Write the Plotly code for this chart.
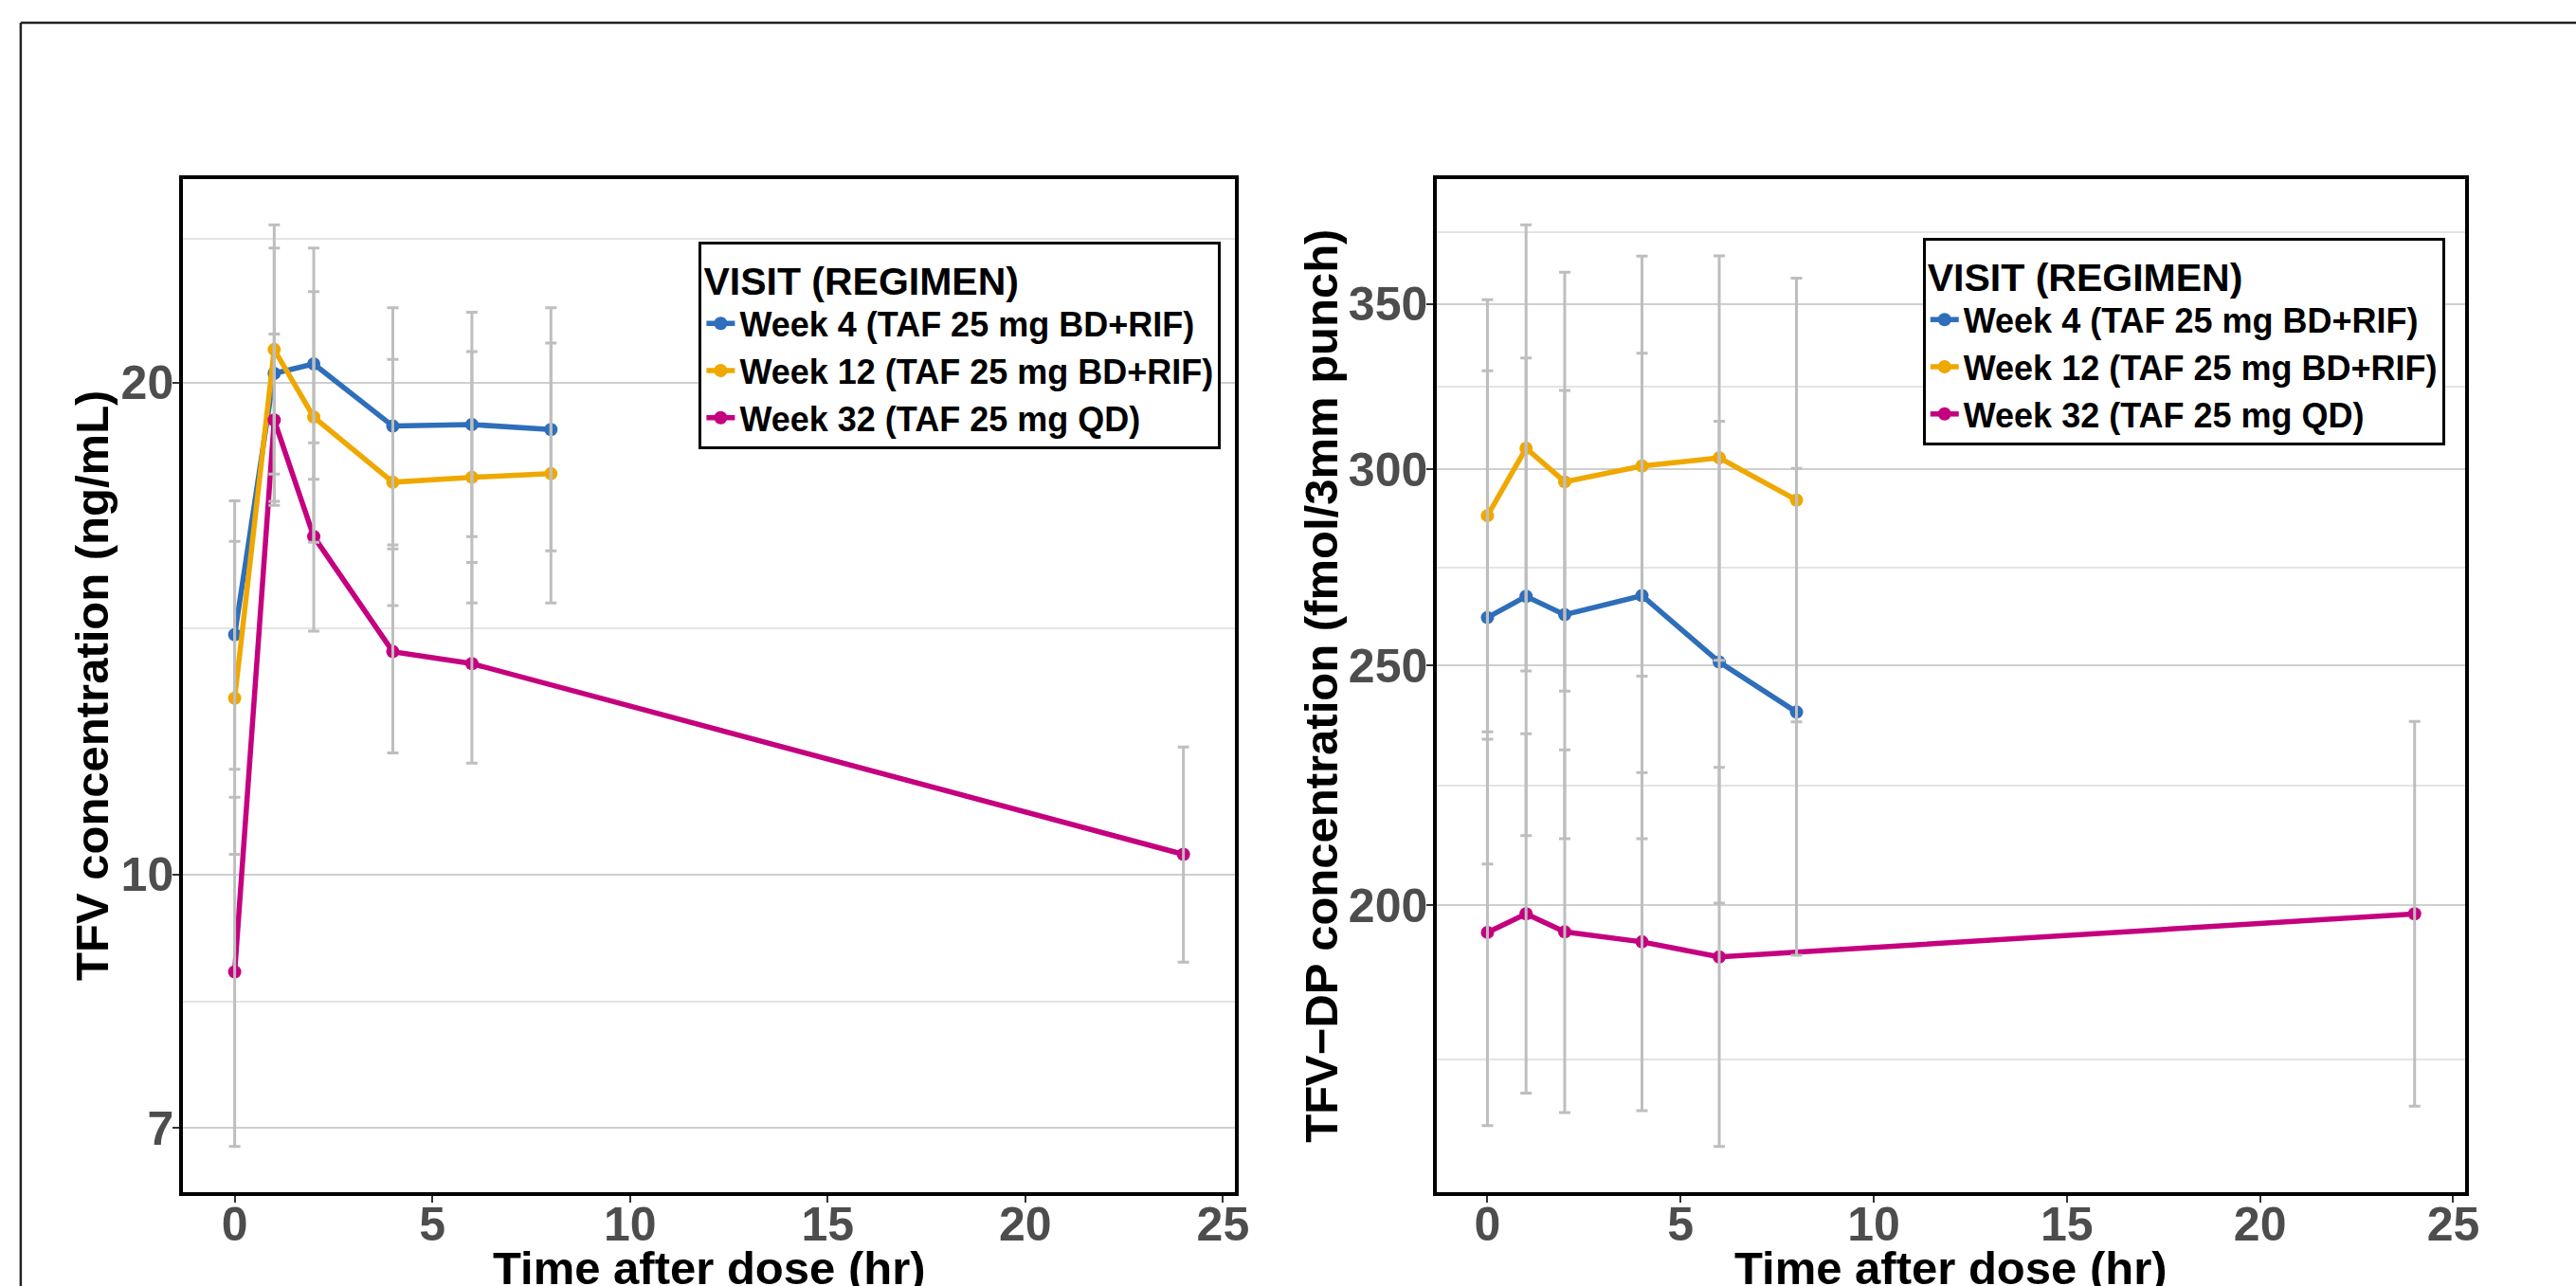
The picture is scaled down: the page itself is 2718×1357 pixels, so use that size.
import numpy as np
import plotly.graph_objects as go

W, H = 2718, 1357

# ---------------- data ----------------
TIME_BD = [0, 1, 2, 4, 6, 8]
TIME_QD = [0, 1, 2, 4, 6, 24]
SERIES = ["Week 4 (TAF 25 mg BD+RIF)", "Week 12 (TAF 25 mg BD+RIF)", "Week 32 (TAF 25 mg QD)"]
COLORS = ["#2E6EBA", "#EFA800", "#C5007F"]
X_TICKS = [0, 5, 10, 15, 20, 25]

# Left panel: TFV plasma (ng/mL)
TFV_W4 = [14.02, 20.26, 20.53, 18.81, 18.85, 18.72]
TFV_W4_LO = [11.60, 16.92, 17.45, 15.91, 16.10, 15.78]
TFV_W4_HI = [16.93, 24.17, 24.17, 22.22, 22.08, 22.22]
TFV_W12 = [12.82, 20.95, 19.05, 17.38, 17.50, 17.59]
TFV_W12_LO = [10.29, 17.58, 15.97, 14.61, 14.66, 14.66]
TFV_W12_HI = [15.99, 24.97, 22.73, 20.66, 20.89, 21.14]
TFV_W32 = [8.72, 18.97, 16.10, 13.69, 13.46, 10.29]
TFV_W32_LO = [6.82, 16.82, 14.09, 11.87, 11.70, 8.84]
TFV_W32_HI = [11.15, 21.41, 18.37, 15.82, 15.52, 11.97]
TFV_YTICKS = [7, 10, 20, 30]

# Right panel: TFV-DP (fmol/3mm punch)
DP_W4 = [261.4, 266.6, 262.1, 266.8, 250.8, 239.4]
DP_W4_LO = [207.8, 213.4, 212.8, 212.8, 200.4, 190.9]
DP_W4_HI = [328.9, 332.8, 322.9, 334.3, 313.8, 300.3]
DP_W12 = [287.4, 306.0, 296.6, 301.0, 303.3, 291.6]
DP_W12_LO = [235.0, 248.7, 244.1, 247.5, 251.2, 237.2]
DP_W12_HI = [351.4, 376.7, 360.5, 365.9, 366.0, 358.5]
DP_W32 = [195.0, 198.4, 195.1, 193.3, 190.6, 198.4]
DP_W32_LO = [162.9, 167.9, 164.9, 165.2, 159.8, 165.9]
DP_W32_HI = [233.4, 234.6, 231.1, 226.3, 227.4, 237.3]
DP_YTICKS = [150, 200, 250, 300, 350, 400]

# ---------------- styling ----------------
FONT = "Liberation Sans, Arial, sans-serif"
TICK_COLOR = "#4D4D4D"
ERR_COLOR = "#BEBEBE"
GRID_MAJOR = "#CFCFCF"
GRID_MINOR = "#E4E4E4"
LW = 3.5  # panel border width


def px_x(p):
    return p / W


def px_y(p):
    return 1 - p / H


def log_range(lo_lists, hi_lists):
    lo = np.log10(min(min(l) for l in lo_lists))
    hi = np.log10(max(max(h) for h in hi_lists))
    pad = 0.05 * (hi - lo)
    return [lo - pad, hi + pad]


def minor_vals(ticks):
    t = np.array(ticks, dtype=float)
    return list(np.sqrt(t[:-1] * t[1:]))


x_all = TIME_BD + TIME_QD
xmin, xmax = min(x_all) - 0.1, max(x_all) + 0.1
xpad = 0.05 * (xmax - xmin)
X_RANGE = [xmin - xpad, xmax + xpad]

fig = go.Figure()

panels = [
    dict(xa="x", ya="y", legend="legend",
         series=[(TIME_BD, TFV_W4, TFV_W4_LO, TFV_W4_HI),
                 (TIME_BD, TFV_W12, TFV_W12_LO, TFV_W12_HI),
                 (TIME_QD, TFV_W32, TFV_W32_LO, TFV_W32_HI)]),
    dict(xa="x2", ya="y2", legend="legend2",
         series=[(TIME_BD, DP_W4, DP_W4_LO, DP_W4_HI),
                 (TIME_BD, DP_W12, DP_W12_LO, DP_W12_HI),
                 (TIME_QD, DP_W32, DP_W32_LO, DP_W32_HI)]),
]

for p in panels:
    for (t, v, lo, hi), name, col in zip(p["series"], SERIES, COLORS):
        fig.add_trace(go.Scatter(
            x=t, y=v, name=name, mode="lines+markers",
            line=dict(color=col, width=5.5),
            marker=dict(color=col, size=14),
            xaxis=p["xa"], yaxis=p["ya"], legend=p["legend"],
            showlegend=True,
        ))
    for (t, v, lo, hi), name in zip(p["series"], SERIES):
        fig.add_trace(go.Scatter(
            x=t, y=v, mode="markers", name=name,
            marker=dict(color="rgba(0,0,0,0)", size=1),
            error_y=dict(type="data", symmetric=False,
                         array=[h - m for h, m in zip(hi, v)],
                         arrayminus=[m - l for m, l in zip(v, lo)],
                         color=ERR_COLOR, thickness=3, width=6),
            xaxis=p["xa"], yaxis=p["ya"], showlegend=False, hoverinfo="skip",
        ))

# panel positions (pixel measurements of the border centre lines)
LEFT_PANEL = (192.3, 1312.3)
RIGHT_PANEL = (1522.7, 2617.3)
TOP, BOTTOM = 187.0, 1260.0
h = LW / 2

xaxis_common = dict(
    range=X_RANGE, tickvals=X_TICKS, showgrid=False, zeroline=False,
    showline=True, linecolor="black", linewidth=LW, mirror=True,
    ticks="outside", ticklen=7, tickwidth=2, tickcolor="#333333",
    ticklabelstandoff=-20,
    tickfont=dict(family=FONT, size=50, color=TICK_COLOR, weight="bold"),
)
yaxis_common = dict(
    type="log", showgrid=True, gridcolor=GRID_MAJOR, gridwidth=2, zeroline=False,
    showline=True, linecolor="black", linewidth=LW, mirror=True,
    ticks="outside", ticklen=7, tickwidth=2, tickcolor="#333333",
    ticklabelstandoff=-11,
    tickfont=dict(family=FONT, size=50, color=TICK_COLOR, weight="bold"),
)

y_dom = [px_y(BOTTOM - h), px_y(TOP + h)]

fig.update_layout(
    xaxis=dict(domain=[px_x(LEFT_PANEL[0] + h), px_x(LEFT_PANEL[1] - h)], anchor="y", **xaxis_common),
    yaxis=dict(domain=y_dom, anchor="x",
               range=log_range([TFV_W4_LO, TFV_W12_LO, TFV_W32_LO], [TFV_W4_HI, TFV_W12_HI, TFV_W32_HI]),
               tickvals=TFV_YTICKS, ticktext=[str(v) for v in TFV_YTICKS],
               minor=dict(tickmode="array", tickvals=minor_vals(TFV_YTICKS), showgrid=True,
                          gridcolor=GRID_MINOR, gridwidth=2, ticks=""),
               **yaxis_common),
    xaxis2=dict(domain=[px_x(RIGHT_PANEL[0] + h), px_x(RIGHT_PANEL[1] - h)], anchor="y2", **xaxis_common),
    yaxis2=dict(domain=y_dom, anchor="x2",
                range=log_range([DP_W4_LO, DP_W12_LO, DP_W32_LO], [DP_W4_HI, DP_W12_HI, DP_W32_HI]),
                tickvals=DP_YTICKS, ticktext=[str(v) for v in DP_YTICKS],
                minor=dict(tickmode="array", tickvals=minor_vals(DP_YTICKS), showgrid=True,
                           gridcolor=GRID_MINOR, gridwidth=2, ticks=""),
                **yaxis_common),
)

legend_common = dict(
    title=dict(text="VISIT (REGIMEN)", font=dict(family=FONT, size=41, color="black", weight="bold")),
    font=dict(family=FONT, size=36, color="black", weight="bold"),
    bgcolor="white", bordercolor="black", borderwidth=3,
    xanchor="left", yanchor="top", itemwidth=30, tracegroupgap=0,
)
fig.update_layout(
    legend=dict(x=px_x(741.5), y=px_y(255), **legend_common),
    legend2=dict(x=px_x(2040), y=px_y(251), **legend_common),
)

title_font = dict(family=FONT, size=49, color="black", weight="bold")
annotations = [
    dict(text="Time after dose (hr)", x=px_x(sum(LEFT_PANEL) / 2), y=px_y(1309),
         xanchor="center", yanchor="top", showarrow=False, font=title_font),
    dict(text="Time after dose (hr)", x=px_x(sum(RIGHT_PANEL) / 2), y=px_y(1309),
         xanchor="center", yanchor="top", showarrow=False, font=title_font),
    dict(text="TFV concentration (ng/mL)", x=px_x(97), y=px_y((TOP + BOTTOM) / 2),
         xanchor="center", yanchor="middle", textangle=-90, showarrow=False, font=title_font),
    dict(text="TFV\u2212DP concentration (fmol/3mm punch)", x=px_x(1401), y=px_y((TOP + BOTTOM) / 2),
         xanchor="center", yanchor="middle", textangle=-90, showarrow=False, font=title_font),
]
for a in annotations:
    a.update(xref="paper", yref="paper")

shapes = [
    dict(type="line", xref="paper", yref="paper", x0=px_x(22), x1=px_x(W + 20), y0=px_y(24), y1=px_y(24),
         line=dict(color="#222222", width=2.5)),
    dict(type="line", xref="paper", yref="paper", x0=px_x(22), x1=px_x(22), y0=px_y(24), y1=px_y(H + 20),
         line=dict(color="#222222", width=2.5)),
]

fig.update_layout(
    width=W, height=H, autosize=False,
    margin=dict(l=0, r=0, t=0, b=0),
    paper_bgcolor="white", plot_bgcolor="white",
    annotations=annotations, shapes=shapes,
    font=dict(family=FONT),
)

fig.write_html(
    "out.html",
    config={"displayModeBar": False},
    post_script="document.body.style.margin='0px';document.documentElement.style.overflow='hidden';",
)
